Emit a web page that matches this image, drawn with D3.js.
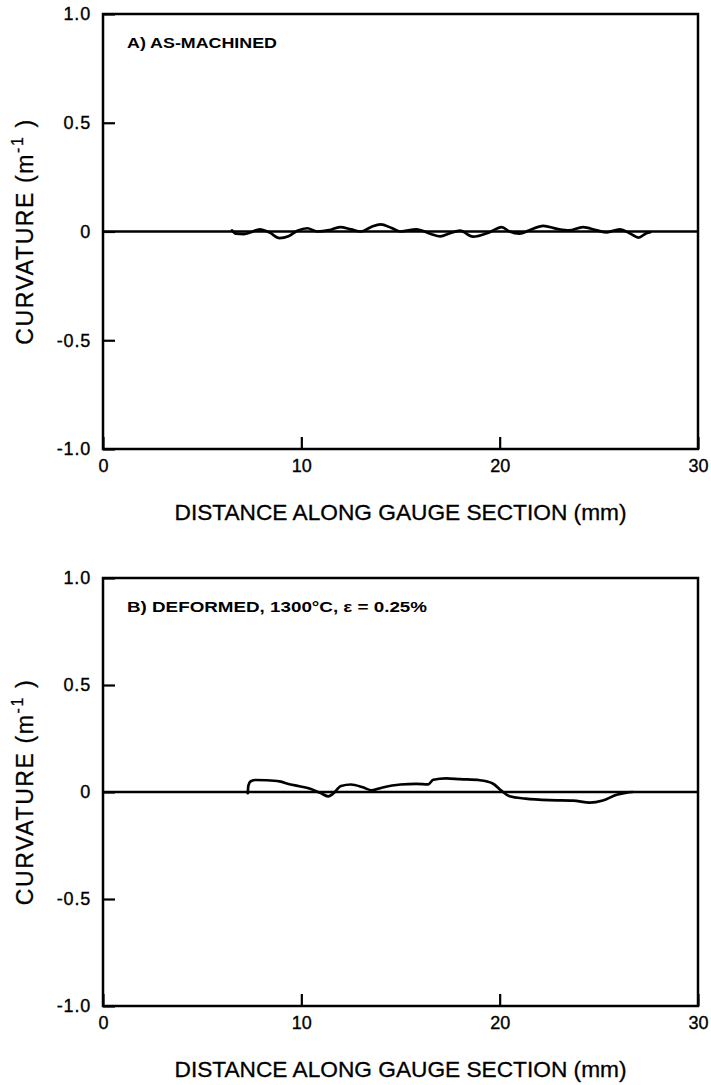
<!DOCTYPE html>
<html><head><meta charset="utf-8">
<script src="https://cdn.jsdelivr.net/npm/d3@7"></script>
<style>
body{margin:0;background:#fff;}
svg{display:block;font-family:"Liberation Sans",Arial,Helvetica,sans-serif;}
</style></head>
<body>
<svg id="c" width="711" height="1085"></svg>
<script>
// ---- data ----
const xTicks = [0, 10, 20, 30];
const xTickLabels = ["0", "10", "20", "30"];
const yTicks = [-1, -0.5, 0, 0.5, 1];
const yTickLabels = ["-1.0", "-0.5", "0", "0.5", "1.0"];
const xTitle = "DISTANCE ALONG GAUGE SECTION (mm)";
const panelLabels = ["A) AS-MACHINED", "B) DEFORMED, 1300°C, \u03B5 =  0.25%"];

const aX = [6.5,6.7,7.1,7.5,7.9,8.4,8.9,9.35,9.8,10.3,10.8,11.4,11.95,12.5,13.0,13.5,14.0,14.55,15.0,15.8,16.5,17.0,17.5,18.0,18.65,19.5,20.1,20.5,21.0,21.5,22.2,22.9,23.5,24.2,24.9,25.4,26.05,26.6,27.0,27.4,27.6];
const aY = [0.005,-0.01,-0.012,-0.002,0.01,-0.005,-0.03,-0.022,0.003,0.015,0.0,0.006,0.02,0.01,0.0,0.02,0.033,0.016,0.0,0.01,-0.01,-0.022,-0.008,0.004,-0.024,-0.003,0.02,0.0,-0.01,0.006,0.026,0.012,0.005,0.02,0.005,-0.004,0.01,-0.01,-0.028,-0.008,-0.003];

const bX = [7.3,7.33,7.45,7.7,8.25,8.9,9.4,9.9,10.45,10.95,11.35,11.6,12.0,12.5,13.1,13.55,14.05,15.0,15.8,16.4,16.65,17.3,18.0,19.0,19.65,20.1,20.5,21.3,22.5,23.7,24.55,25.2,25.9,26.4,26.7];
const bY = [-0.005,0.03,0.05,0.056,0.055,0.05,0.036,0.027,0.015,-0.004,-0.02,-0.008,0.028,0.035,0.022,0.008,0.02,0.035,0.038,0.036,0.057,0.064,0.06,0.055,0.04,0.005,-0.02,-0.031,-0.038,-0.04,-0.05,-0.04,-0.013,-0.003,0.0];

// ---- drawing ----
const svg = d3.select("#c");
const panels = [
  {top: 14, bottom: 449, xs: aX, ys: aY, label: panelLabels[0], labelLen: 150},
  {top: 578, bottom: 1006, xs: bX, ys: bY, label: panelLabels[1], labelLen: 300}
];
const left = 103, right = 698;
const x = d3.scaleLinear().domain([0, 30]).range([left, right]);

panels.forEach(p => {
  const y = d3.scaleLinear().domain([-1, 1]).range([p.bottom, p.top]);
  const g = svg.append("g");

  // frame
  g.append("rect").attr("x", left).attr("y", p.top)
    .attr("width", right - left).attr("height", p.bottom - p.top)
    .attr("fill", "none").attr("stroke", "#000").attr("stroke-width", 2.5);

  // zero line
  g.append("line").attr("x1", left).attr("x2", right)
    .attr("y1", y(0)).attr("y2", y(0))
    .attr("stroke", "#000").attr("stroke-width", 2.6);

  // axes
  const xa = g.append("g").attr("transform", `translate(0,${p.bottom})`)
    .call(d3.axisBottom(x).tickValues(xTicks).tickSizeInner(-12).tickSizeOuter(0)
      .tickPadding(10).tickFormat((d, i) => xTickLabels[i]));
  const ya = g.append("g").attr("transform", `translate(${left},0)`)
    .call(d3.axisLeft(y).tickValues(yTicks).tickSizeInner(-12).tickSizeOuter(0)
      .tickPadding(12).tickFormat((d, i) => yTickLabels[i]));
  [xa, ya].forEach(a => {
    a.select(".domain").remove();
    a.selectAll("line").attr("stroke", "#000").attr("stroke-width", 2.2);
    a.selectAll("text").attr("fill", "#000").attr("font-size", 18)
      .attr("stroke", "#000").attr("stroke-width", 0.35)
      .attr("font-family", "'Liberation Sans',Arial,sans-serif");
  });
  ya.selectAll("text").attr("letter-spacing", 0.8);

  // curve
  const pts = p.xs.map((v, i) => [v, p.ys[i]]);
  g.append("path").datum(pts)
    .attr("fill", "none").attr("stroke", "#000").attr("stroke-width", 2.7)
    .attr("stroke-linejoin", "round").attr("stroke-linecap", "round")
    .attr("d", d3.line().x(d => x(d[0])).y(d => y(d[1])).curve(d3.curveMonotoneX));

  // panel label
  g.append("text").attr("x", 127).attr("y", p.top + 34)
    .attr("font-size", 14).attr("font-weight", "bold")
    .attr("textLength", p.labelLen).attr("lengthAdjust", "spacingAndGlyphs")
    .text(p.label);

  // x title
  g.append("text").attr("x", (left + right) / 2).attr("y", p.bottom + 71)
    .attr("text-anchor", "middle").attr("font-size", 22)
    .attr("stroke", "#000").attr("stroke-width", 0.3)
    .attr("textLength", 452).attr("lengthAdjust", "spacingAndGlyphs")
    .text(xTitle);

  // y title
  const yc = (p.top + p.bottom) / 2;
  const yt = g.append("text")
    .attr("transform", `translate(33,${yc}) rotate(-90)`)
    .attr("text-anchor", "middle").attr("font-size", 23)
    .attr("letter-spacing", 1.6)
    .attr("stroke", "#000").attr("stroke-width", 0.3);
  yt.append("tspan").text("CURVATURE (m");
  yt.append("tspan").attr("dy", -10).attr("font-size", 16).text("-1");
  yt.append("tspan").attr("dy", 10).text(" )");
});
</script>
</body></html>
